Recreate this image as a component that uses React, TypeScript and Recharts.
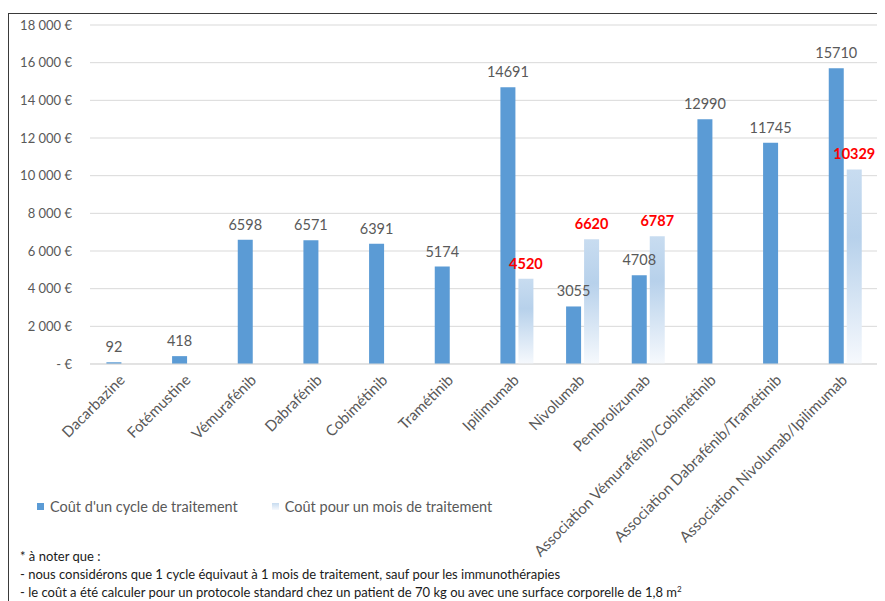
import { BarChart, Bar, XAxis, YAxis, CartesianGrid, LabelList } from 'recharts';

const categories = [
  'Dacarbazine',
  'Fotémustine',
  'Vémurafénib',
  'Dabrafénib',
  'Cobimétinib',
  'Tramétinib',
  'Ipilimumab',
  'Nivolumab',
  'Pembrolizumab',
  'Association Vémurafénib/Cobimétinib',
  'Association Dabrafénib/Tramétinib',
  'Association Nivolumab/Ipilimumab',
];

const coutCycle = [92, 418, 6598, 6571, 6391, 5174, 14691, 3055, 4708, 12990, 11745, 15710];
const coutMois = [null, null, null, null, null, null, 4520, 6620, 6787, null, null, 10329];

const yTicks = [0, 2000, 4000, 6000, 8000, 10000, 12000, 14000, 16000, 18000];

const data = categories.map((name, i) => ({
  name,
  cycle: coutCycle[i],
  mois: coutMois[i],
}));

const FONT = 'Lato, "Open Sans", sans-serif';
const GREY = '#595959';

const formatEuro = (v: number) => {
  if (v === 0) return '-   €';
  return v.toLocaleString('fr-FR').replace(/\u202f|\u00a0/g, ' ') + ' €';
};

const XTick = ({ x, y, payload }: any) => (
  <g transform={`translate(${x + 3},${y + 9})`}>
    <text transform="rotate(-45)" textAnchor="end" fill={GREY} fontSize={15} fontFamily={FONT}>
      {payload.value}
    </text>
  </g>
);

export default function App() {
  return (
    <div style={{ paddingTop: 5 }}>
      <div
        style={{
          position: 'relative',
          width: 877,
          height: 588,
          borderTop: '1px solid #3a3a3a',
          borderLeft: '1px solid #3a3a3a',
          fontFamily: FONT,
          background: '#fff',
          overflow: 'hidden',
        }}
      >
        <BarChart
          width={876}
          height={588}
          data={data}
          margin={{ top: 11, right: 7, left: 0, bottom: 0 }}
          barCategoryGap="25%"
          barGap={3}
        >
          <defs>
            <linearGradient id="moisGrad" x1="0" y1="0" x2="0" y2="1">
              <stop offset="0%" stopColor="#c8dcf0" />
              <stop offset="35%" stopColor="#b7d1eb" />
              <stop offset="100%" stopColor="#f6f9fd" />
            </linearGradient>
          </defs>
          <CartesianGrid vertical={false} stroke="#d9d9d9" />
          <XAxis
            dataKey="name"
            interval={0}
            height={238}
            tickLine={false}
            axisLine={{ stroke: '#d9d9d9' }}
            tick={<XTick />}
          />
          <YAxis
            width={81}
            domain={[0, 18000]}
            ticks={yTicks}
            tickFormatter={formatEuro}
            axisLine={false}
            tickLine={false}
            tickMargin={12}
            tick={{ fill: GREY, fontSize: 13, fontFamily: FONT }}
          />
          <Bar dataKey="cycle" fill="#5b9bd5" isAnimationActive={false}>
            <LabelList
              dataKey="cycle"
              position="top"
              offset={10}
              fill={GREY}
              fontSize={14.5}
              fontFamily={FONT}
            />
          </Bar>
          <Bar dataKey="mois" fill="url(#moisGrad)" isAnimationActive={false}>
            <LabelList
              dataKey="mois"
              position="top"
              offset={10}
              fill="#ff0000"
              fontSize={14.5}
              fontWeight="bold"
              fontFamily={FONT}
            />
          </Bar>
        </BarChart>

        <div
          style={{
            position: 'absolute',
            top: 484,
            left: 28,
            display: 'flex',
            alignItems: 'center',
            fontSize: 14.5,
            color: GREY,
          }}
        >
          <span style={{ width: 7, height: 7, background: '#5b9bd5', marginRight: 6 }} />
          <span style={{ marginRight: 34 }}>Coût d'un cycle de traitement</span>
          <span
            style={{
              width: 7,
              height: 7,
              background: 'linear-gradient(#c8dcf0, #f6f9fd)',
              marginRight: 6,
            }}
          />
          <span>Coût pour un mois de traitement</span>
        </div>

        <div
          style={{
            position: 'absolute',
            top: 533,
            left: 11,
            fontSize: 13,
            lineHeight: '18px',
            color: '#1a1a1a',
            whiteSpace: 'nowrap',
          }}
        >
          <div>* à noter que :</div>
          <div>- nous considérons que 1 cycle équivaut à 1 mois de traitement, sauf pour les immunothérapies</div>
          <div>
            - le coût a été calculer pour un protocole standard chez un patient de 70 kg ou avec une surface corporelle de 1,8 m
            <sup style={{ fontSize: 8, lineHeight: 0 }}>2</sup>
          </div>
        </div>
      </div>
    </div>
  );
}
